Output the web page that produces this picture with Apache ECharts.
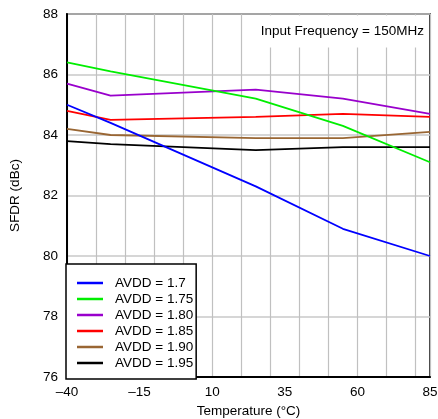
<!DOCTYPE html>
<html>
<head>
<meta charset="utf-8">
<script src="https://cdn.jsdelivr.net/npm/echarts@6/dist/echarts.min.js"></script>
<style>
html, body { margin: 0; padding: 0; background: #fff; }
#chart { width: 438px; height: 419px; }
</style>
</head>
<body>
<div id="chart"></div>
<script>
const temps = [-40, -25, 25, 55, 85];
const xTickLabels = [-40, -15, 10, 35, 60, 85];
const seriesNames = ['AVDD = 1.7', 'AVDD = 1.75', 'AVDD = 1.80', 'AVDD = 1.85', 'AVDD = 1.90', 'AVDD = 1.95'];
const avdd170 = [85.0, 84.4, 82.3, 80.9, 80.0];
const avdd175 = [86.4, 86.1, 85.2, 84.3, 83.1];
const avdd180 = [85.7, 85.3, 85.5, 85.2, 84.7];
const avdd185 = [84.8, 84.5, 84.6, 84.7, 84.6];
const avdd190 = [84.2, 84.0, 83.9, 83.9, 84.1];
const avdd195 = [83.8, 83.7, 83.5, 83.6, 83.6];
const seriesValues = [avdd170, avdd175, avdd180, avdd185, avdd190, avdd195];
const colors = ['#0000ff', '#00ee00', '#9900cc', '#ff0000', '#996633', '#000000'];

const FONT = "'Liberation Sans', Arial, Helvetica, sans-serif";
const FS = 13.5;
const fmt = v => String(v).replace('-', '\u2013');

const chart = echarts.init(document.getElementById('chart'), null, { renderer: 'canvas' });
chart.setOption({
  animation: false,
  backgroundColor: '#fff',
  textStyle: { fontFamily: FONT },
  title: {
    text: 'Input Frequency = 150MHz',
    right: 9,
    top: 15.5,
    padding: [9, 5, 9, 10],
    backgroundColor: '#fff',
    textStyle: { fontFamily: FONT, fontSize: FS, fontWeight: 'normal', color: '#000' }
  },
  grid: {
    left: 67, right: 8, top: 14, bottom: 42,
    show: true, borderColor: '#000', borderWidth: 1.5,
    containLabel: false,
    outerBoundsMode: 'none'
  },
  legend: {
    orient: 'vertical',
    left: 66, top: 264,
    padding: [12, 3, 9, 11],
    icon: 'rect',
    itemWidth: 26, itemHeight: 2.5, itemGap: 2,
    backgroundColor: '#fff',
    borderColor: '#000', borderWidth: 1.5,
    textStyle: { fontFamily: FONT, fontSize: FS, color: '#000', padding: [0, 0, 0, 7] },
    data: seriesNames
  },
  xAxis: {
    type: 'value', min: -40, max: 85, interval: 10,
    name: 'Temperature (\u00B0C)', nameLocation: 'middle', nameGap: 27,
    nameTextStyle: { fontFamily: FONT, fontSize: FS, color: '#000' },
    axisLine: { show: true, onZero: false, lineStyle: { color: '#000', width: 2 } },
    axisTick: { show: false },
    axisLabel: { customValues: xTickLabels, formatter: fmt, fontFamily: FONT, fontSize: FS, color: '#000', margin: 8 },
    splitLine: { show: true, lineStyle: { color: '#c0c0c0', width: 1.2 } }
  },
  yAxis: {
    type: 'value', min: 76, max: 88, interval: 2,
    name: 'SFDR (dBc)', nameLocation: 'middle', nameGap: 45,
    nameTextStyle: { fontFamily: FONT, fontSize: FS, color: '#000' },
    axisLine: { show: true, onZero: false, lineStyle: { color: '#000', width: 2 } },
    axisTick: { show: false },
    axisLabel: { fontFamily: FONT, fontSize: FS, color: '#000', margin: 9 },
    splitLine: { show: true, lineStyle: { color: '#c8c8c8', width: 1.6 } }
  },
  series: seriesNames.map((name, i) => ({
    name: name,
    type: 'line',
    symbol: 'none',
    color: colors[i],
    lineStyle: { color: colors[i], width: 1.8 },
    data: temps.map((t, j) => [t, seriesValues[i][j]]),
    z: 3 + (seriesNames.length - i)
  }))
});
</script>
</body>
</html>
